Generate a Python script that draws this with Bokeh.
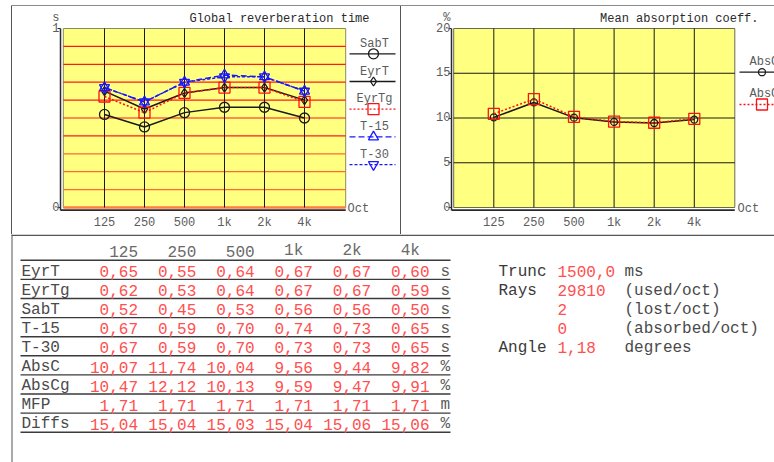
from bokeh.plotting import figure
from bokeh.layouts import column, row
from bokeh.models import Range1d, FixedTicker, Label, LinearAxis, Spacer
from bokeh.core.properties import value
from bokeh.embed import file_html
from bokeh.resources import INLINE

# ---------------- data ----------------
bands = ["125", "250", "500", "1k", "2k", "4k"]
eyrt = [0.65, 0.55, 0.64, 0.67, 0.67, 0.60]
eyrtg = [0.62, 0.53, 0.64, 0.67, 0.67, 0.59]
sabt = [0.52, 0.45, 0.53, 0.56, 0.56, 0.50]
t15 = [0.67, 0.59, 0.70, 0.74, 0.73, 0.65]
t30 = [0.67, 0.59, 0.70, 0.73, 0.73, 0.65]
absc = [10.07, 11.74, 10.04, 9.56, 9.44, 9.82]
abscg = [10.47, 12.12, 10.13, 9.59, 9.47, 9.91]
mfp = [1.71, 1.71, 1.71, 1.71, 1.71, 1.71]
diffs = [15.04, 15.04, 15.03, 15.04, 15.06, 15.06]
rt_ticks = [0, 1]
abs_ticks = [0, 5, 10, 15, 20]
rt_grid = [0.1, 0.2, 0.3, 0.4, 0.5, 0.6, 0.7, 0.8, 0.9]
abs_grid = [5, 10, 15]
trunc_ms = 1500.0
rays_used = 29810
rays_lost = 2
rays_absorbed = 0
angle_deg = 1.18

MONO = "Liberation Mono"
YELLOW = "#FFFF80"
TXT = "#5c5c5c"
DARK = "#2a2a2a"
RED_TXT = "#FF4F4F"
BORDER = "#555555"

xpos = list(range(1, len(bands) + 1))


def style_axes(p, yticks, yb):
    p.xaxis.ticker = FixedTicker(ticks=xpos)
    p.xaxis.major_label_overrides = {x: b for x, b in zip(xpos, bands)}
    p.yaxis.ticker = FixedTicker(ticks=yticks)
    p.yaxis.major_label_overrides = {t: "" for t in yticks}
    for ax in (p.xaxis[0], p.yaxis[0]):
        ax.axis_line_color = DARK
        ax.axis_line_width = 1.5
        ax.major_tick_in = 0
        ax.minor_tick_in = 0
        ax.minor_tick_out = 0
        ax.major_tick_line_color = DARK
        ax.major_label_text_font = MONO
        ax.major_label_text_font_size = "12px"
        ax.major_label_text_color = TXT
    p.xaxis.axis_line_color = None
    p.xaxis.major_tick_out = 0
    p.yaxis.major_tick_out = 3
    p.xaxis.major_label_standoff = 1
    p.yaxis.major_label_standoff = 0
    p.yaxis.bounds = yb
    p.xgrid.visible = False
    p.ygrid.visible = False


def add_label_axis(p, yr, yticks, unit_y, unit_text):
    p.extra_y_ranges = {"lab": Range1d(yr.start, yr.end)}
    ax = LinearAxis(y_range_name="lab", ticker=FixedTicker(ticks=yticks + [unit_y]),
                    major_label_overrides={unit_y: unit_text},
                    axis_line_color=None, major_tick_line_color=None,
                    minor_tick_line_color=None, major_tick_out=0, major_tick_in=0,
                    minor_tick_out=0, minor_tick_in=0, major_label_standoff=-2,
                    major_label_text_font=MONO, major_label_text_font_size="12px",
                    major_label_text_color=TXT)
    p.add_layout(ax, "left")


def add_label(p, x, y, text, align="left", color=TXT, size="12px", baseline="middle"):
    p.add_layout(Label(x=x, y=y, text=text, text_align=align, text_baseline=baseline,
                       text_font=MONO, text_font_size=size, text_color=color))


# ---------------- chart 1: reverberation time ----------------
def px_x1(px):
    return 1 + (px - 104.0) / 40.0


def px_y1(py):
    return (207.0 - py) / 179.0


yr1 = Range1d(px_y1(214), px_y1(6))
p1 = figure(width=388, height=228, output_backend="svg", toolbar_location=None,
            x_range=Range1d(px_x1(60), px_x1(400)), y_range=yr1,
            min_border_left=48, min_border_right=0, min_border_top=0, min_border_bottom=20,
            outline_line_color=None, background_fill_color="white", border_fill_color="white")
x_lo, x_hi = xpos[0] - 1.03, xpos[-1] + 1.03
style_axes(p1, rt_ticks, (px_y1(209.6), rt_ticks[-1]))
add_label_axis(p1, yr1, rt_ticks, 1.06, "s")

p1.quad(left=[x_lo], right=[x_hi], bottom=[rt_ticks[0]], top=[rt_ticks[-1]],
        fill_color=YELLOW, line_color="#8a8a60", line_width=1)
grid_cols = ["#FF6A33" if g < 0.35 else "#FF1A1A" for g in rt_grid]
p1.segment(x0=[x_lo] * len(rt_grid), x1=[x_hi] * len(rt_grid), y0=rt_grid, y1=rt_grid,
           line_color=grid_cols, line_width=1.2)
p1.segment(x0=[x_lo], x1=[x_hi], y0=[rt_ticks[0]], y1=[rt_ticks[0]],
           line_color="#FF7A45", line_width=2.5)
p1.segment(x0=xpos, x1=xpos, y0=[rt_ticks[0]] * 6, y1=[rt_ticks[-1]] * 6,
           line_color="#1a1a1a", line_width=1)
# x axis line (drawn slightly below the zero line, as in the original)
p1.segment(x0=[px_x1(60)], x1=[x_hi], y0=[px_y1(209.6)], y1=[px_y1(209.6)],
           line_color=DARK, line_width=1.6)

series1 = [
    ("SabT", sabt, "#1a1a1a", "solid", "circle", 10),
    ("EyrT", eyrt, "#1a1a1a", "solid", "diamond", 9),
    ("EyrTg", eyrtg, "#FF1010", "2 2", "square", 11),
    ("T-15", t15, "#1818FF", "6 3", "triangle", 10),
    ("T-30", t30, "#1818FF", "3 2", "inverted_triangle", 10),
]
for i, (name, vals, col, dash, mk, sz) in enumerate(series1):
    p1.line(xpos, vals, line_color=col, line_width=1.5, line_dash=dash)
    p1.scatter(xpos, vals, marker=mk, size=sz, fill_color=None, line_color=col, line_width=1.3)
    ly = 53.3 + 27.7 * i
    add_label(p1, px_x1(374), px_y1(ly - 10), name, align="center")
    p1.line([px_x1(349), px_x1(395)], [px_y1(ly), px_y1(ly)], line_color=col,
            line_width=1.3, line_dash=dash)
    p1.scatter([px_x1(373)], [px_y1(ly)], marker=mk, size=sz, fill_color=None,
               line_color=col, line_width=1.3)

add_label(p1, px_x1(369), px_y1(18), "Global reverberation time", align="right", color=DARK)
add_label(p1, px_x1(347), px_y1(208.5), "Oct")


# ---------------- chart 2: absorption ----------------
def px_x2(px):
    return 1 + (px - 493.3) / 40.1


def px_y2(py):
    return (207.0 - py) * 20.0 / 179.0


yr2 = Range1d(px_y2(214), px_y2(6))
p2 = figure(width=373, height=228, output_backend="svg", toolbar_location=None,
            x_range=Range1d(px_x2(451), px_x2(774)), y_range=yr2,
            min_border_left=50, min_border_right=0, min_border_top=0, min_border_bottom=20,
            outline_line_color=None, background_fill_color="white", border_fill_color="white")
x_lo2, x_hi2 = xpos[0] - 1.0, xpos[-1] + 1.01
style_axes(p2, abs_ticks, (px_y2(209.6), abs_ticks[-1]))
add_label_axis(p2, yr2, abs_ticks, 21.2, "%")

p2.quad(left=[x_lo2], right=[x_hi2], bottom=[abs_ticks[0]], top=[abs_ticks[-1]],
        fill_color=YELLOW, line_color="#6a6a50", line_width=1)
p2.segment(x0=[x_lo2] * len(abs_grid), x1=[x_hi2] * len(abs_grid), y0=abs_grid, y1=abs_grid,
           line_color="#1a1a1a", line_width=1)
p2.segment(x0=xpos, x1=xpos, y0=[abs_ticks[0]] * 6, y1=[abs_ticks[-1]] * 6,
           line_color="#1a1a1a", line_width=1)
p2.segment(x0=[px_x2(451)], x1=[x_hi2], y0=[px_y2(209.6)], y1=[px_y2(209.6)],
           line_color=DARK, line_width=1.6)

series2 = [
    ("AbsC", absc, "#1a1a1a", "solid", "circle", 7),
    ("AbsCg", abscg, "#FF1010", "2 2", "square", 11),
]
leg2_y = [71.7, 104.0]
for i, (name, vals, col, dash, mk, sz) in enumerate(series2):
    p2.line(xpos, vals, line_color=col, line_width=1.5, line_dash=dash)
    p2.scatter(xpos, vals, marker=mk, size=sz, fill_color=None, line_color=col, line_width=1.3)
    ly = leg2_y[i]
    add_label(p2, px_x2(749), px_y2(ly - 10.5), name)
    p2.line([px_x2(739), px_x2(780)], [px_y2(ly), px_y2(ly)], line_color=col,
            line_width=1.3, line_dash=dash)
    p2.scatter([px_x2(761.5)], [px_y2(ly)], marker=mk, size=sz, fill_color=None,
               line_color=col, line_width=1.3)

add_label(p2, px_x2(758), px_y2(18), "Mean absorption coeff.", align="right", color=DARK)
add_label(p2, px_x2(737), px_y2(208.5), "Oct")

# ---------------- table ----------------
t = figure(width=774, height=228, output_backend="svg", toolbar_location=None,
           x_range=Range1d(0, 774), y_range=Range1d(462, 234),
           x_axis_type=None, y_axis_type=None, min_border=0,
           outline_line_color=None, background_fill_color="white", border_fill_color="white")

row_names = ["EyrT", "EyrTg", "SabT", "T-15", "T-30", "AbsC", "AbsCg", "MFP", "Diffs"]
row_values = [eyrt, eyrtg, sabt, t15, t30, absc, abscg, mfp, diffs]
row_units = ["s", "s", "s", "s", "s", "%", "%", "m", "%"]

ADV = 9.6
row_top0, row_h = 259.8, 19.1
col_right = [137.5 + 58.3 * j for j in range(len(bands))]
centers = [row_top0 + row_h * r + 11.2 for r in range(len(row_names))]


def fmt(v):
    return f"{v:.2f}".replace(".", ",")


t.segment(x0=[11], x1=[774], y0=[234.8], y1=[234.8], line_color=BORDER, line_width=1.5)
t.segment(x0=[11.5], x1=[11.5], y0=[234], y1=[462], line_color=BORDER, line_width=1)

lines_y = [row_top0 + row_h * k for k in range(len(row_names) + 1)]
t.segment(x0=[20] * len(lines_y), x1=[450] * len(lines_y), y0=lines_y, y1=lines_y,
          line_color="#3a3a3a", line_width=1.4)

font_kw = dict(text_font=value(MONO), text_font_size="16px", text_baseline="middle")
t.text(x=[c - 3 * ADV for c in col_right], y=[250.5] * len(bands), text=bands,
       text_color="#6a6a6a", text_align="left", **font_kw)
t.text(x=[21] * len(row_names), y=centers, text=row_names, text_color="#4a4a4a",
       text_align="left", **font_kw)
cx, cy, ct = [], [], []
for r, vals in enumerate(row_values):
    for j, v in enumerate(vals):
        cx.append(col_right[j])
        cy.append(centers[r])
        ct.append(fmt(v))
t.text(x=cx, y=cy, text=ct, text_color=RED_TXT, text_align="right", **font_kw)
t.text(x=[440] * len(row_units), y=centers, text=row_units, text_color="#5a5a5a",
       text_align="left", **font_kw)

info_names = ["Trunc", "Rays", "", "", "Angle"]
info_vals = [f"{trunc_ms:.1f}".replace(".", ","), str(rays_used), str(rays_lost),
             str(rays_absorbed), f"{angle_deg:.2f}".replace(".", ",")]
info_desc = ["ms", "(used/oct)", "(lost/oct)", "(absorbed/oct)", "degrees"]
t.text(x=[498] * 5, y=centers[:5], text=info_names, text_color="#3a3a3a",
       text_align="left", **font_kw)
t.text(x=[557] * 5, y=centers[:5], text=info_vals, text_color=RED_TXT,
       text_align="left", **font_kw)
t.text(x=[624] * 5, y=centers[:5], text=info_desc, text_color="#4a4a4a",
       text_align="left", **font_kw)

# ---------------- frame lines & layout ----------------
top_line = Spacer(width=763, height=1, margin=(5, 0, 0, 11),
                  styles={"background-color": "#8c8c8c"})
left_line = Spacer(width=1, height=228, margin=(0, 0, 0, 11),
                   styles={"background-color": BORDER})
mid_line = Spacer(width=1, height=228, margin=(0, 0, 0, 0),
                  styles={"background-color": BORDER})

layout = column(top_line, row(left_line, p1, mid_line, p2), t)
open("out.html", "w").write(file_html(layout, INLINE))
